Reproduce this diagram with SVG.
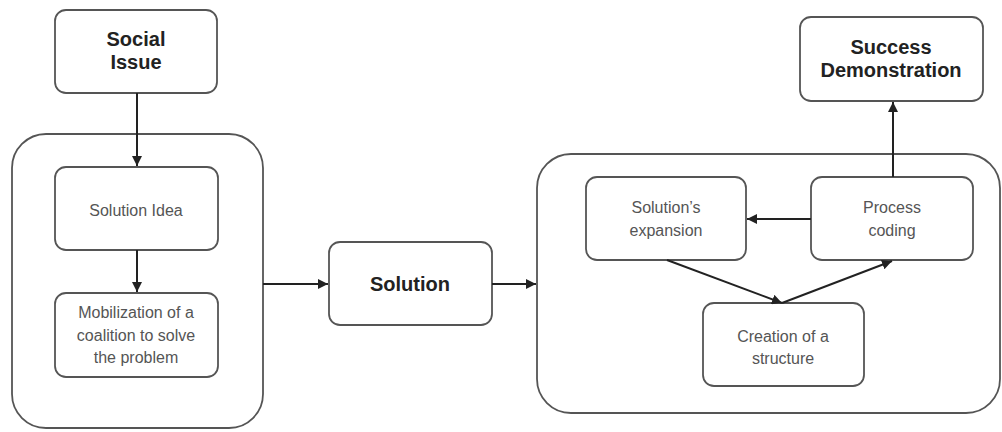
<svg xmlns="http://www.w3.org/2000/svg" width="1002" height="432" viewBox="0 0 1002 432">
<style>
.box{fill:#fff;stroke:#555;stroke-width:1.8}
.cont{fill:#fff;stroke:#555;stroke-width:1.8}
.t{font-family:"Liberation Sans",Arial,sans-serif;font-size:16px;fill:#555;text-anchor:middle}
.b{font-family:"Liberation Sans",Arial,sans-serif;font-size:20px;font-weight:bold;fill:#222;text-anchor:middle}
.c{fill:none;stroke:#222;stroke-width:2}
</style>
<defs>
<marker id="ah" viewBox="0 0 10 10" refX="10" refY="5" markerWidth="5" markerHeight="5" orient="auto" markerUnits="strokeWidth">
<path d="M0,0 L10,5 L0,10 z" fill="#222"/>
</marker>
</defs>
<g id="left-container"><rect class="cont" x="12" y="134" width="251" height="294" rx="34"/></g>
<g id="right-container"><rect class="cont" x="537" y="154" width="463" height="259" rx="34"/></g>
<g id="social-issue"><rect class="box" x="55" y="10" width="162" height="83" rx="11"/>
<text class="b" x="136" y="46">Social</text><text class="b" x="136" y="69">Issue</text></g>
<g id="solution-idea"><rect class="box" x="55" y="167" width="163" height="83" rx="11"/>
<text class="t" x="136" y="216">Solution Idea</text></g>
<g id="mobilization"><rect class="box" x="55" y="293" width="163" height="84" rx="11"/>
<text class="t" x="136" y="318">Mobilization of a</text><text class="t" x="136" y="341">coalition to solve</text><text class="t" x="136" y="363">the problem</text></g>
<g id="solution"><rect class="box" x="329" y="242" width="163" height="83" rx="11"/>
<text class="b" x="410" y="291">Solution</text></g>
<g id="solutions-expansion"><rect class="box" x="586" y="177" width="160" height="83" rx="11"/>
<text class="t" x="666" y="213">Solution’s</text><text class="t" x="666" y="236">expansion</text></g>
<g id="process-coding"><rect class="box" x="811" y="177" width="162" height="83" rx="11"/>
<text class="t" x="892" y="213">Process</text><text class="t" x="892" y="236">coding</text></g>
<g id="creation"><rect class="box" x="703" y="303" width="161" height="83" rx="11"/>
<text class="t" x="783" y="342">Creation of a</text><text class="t" x="783" y="364">structure</text></g>
<g id="success-demonstration"><rect class="box" x="800" y="17" width="183" height="84" rx="11"/>
<text class="b" x="891" y="54">Success</text><text class="b" x="891" y="77">Demonstration</text></g>
<g id="connectors">
<line class="c" x1="137" y1="93" x2="137" y2="166" marker-end="url(#ah)"/>
<line class="c" x1="137" y1="250" x2="137" y2="292" marker-end="url(#ah)"/>
<line class="c" x1="263" y1="284" x2="328" y2="284" marker-end="url(#ah)"/>
<line class="c" x1="492" y1="284" x2="536" y2="284" marker-end="url(#ah)"/>
<line class="c" x1="811" y1="219" x2="747" y2="219" marker-end="url(#ah)"/>
<line class="c" x1="667" y1="260" x2="782" y2="303" marker-end="url(#ah)"/>
<line class="c" x1="782" y1="303" x2="892" y2="261" marker-end="url(#ah)"/>
<line class="c" x1="893" y1="177" x2="893" y2="102" marker-end="url(#ah)"/>
</g>
</svg>
